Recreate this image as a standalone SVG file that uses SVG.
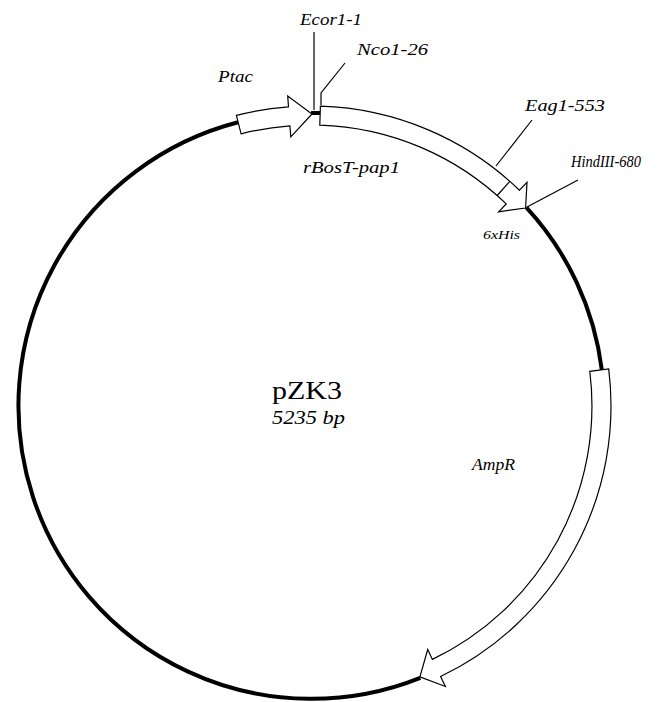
<svg xmlns="http://www.w3.org/2000/svg" width="669" height="702" viewBox="0 0 669 702">
<style>
.bb{fill:none;stroke:#000;stroke-width:4}
.ft{fill:#fff;stroke:#000;stroke-width:1.2;stroke-linejoin:miter}
.ld{fill:none;stroke:#000;stroke-width:1.2}
.lb{font-family:"Liberation Serif","Times New Roman",serif;font-style:italic;font-size:17px;fill:#000}
.sm{font-size:13px}
.ti{font-family:"Liberation Serif","Times New Roman",serif;font-size:26px;fill:#000}
.sb{font-family:"Liberation Serif","Times New Roman",serif;font-style:italic;font-size:19px;fill:#000}
</style>
<rect width="669" height="702" fill="#fff"/>
<g id="backbone">
<path class="bb" d="M311 113 A293 293 0 0 1 320.2 113.1"/>
<path class="bb" d="M526.3 207.3 A293 293 0 0 1 601.8 369.8"/>
<path class="bb" d="M420.3 677.9 A293 293 0 1 1 238.1 122.2"/>
</g>
<g id="Ptac">
<path class="ft" d="M236.4 115.4 A300 300 0 0 1 288.5 106.8 L287.7 95.9 L312 114 L290.8 136.8 L289.9 125.8 A281 281 0 0 0 241.1 133.8 Z"/>
<text class="lb" x="218" y="82" textLength="35" lengthAdjust="spacingAndGlyphs">Ptac</text>
</g>
<g id="rBosT-pap1">
<path class="ft" d="M320.4 106.2 A300 300 0 0 1 519.4 190.2 L527 182.3 L525.6 208 L498.6 211.8 L506.2 203.9 A281 281 0 0 0 319.8 125.1 Z"/>
<text class="lb" x="303" y="173" textLength="97" lengthAdjust="spacingAndGlyphs">rBosT-pap1</text>
</g>
<g id="6xHis">
<line class="ld" x1="509.8" y1="181.3" x2="497.2" y2="195.5"/>
<text class="lb sm" x="483" y="239" textLength="37" lengthAdjust="spacingAndGlyphs">6xHis</text>
</g>
<g id="AmpR">
<path class="ft" d="M608.7 368.9 A300 300 0 0 1 440.6 676.5 L445.4 686.5 L419.9 676.9 L427.7 649.5 L432.4 659.4 A281 281 0 0 0 589.8 371.3 Z"/>
<text class="lb" x="472" y="470" textLength="43" lengthAdjust="spacingAndGlyphs">AmpR</text>
</g>
<g id="center">
<text class="ti" x="272" y="399" textLength="70" lengthAdjust="spacingAndGlyphs">pZK3</text>
<text class="sb" x="272" y="424" textLength="73" lengthAdjust="spacingAndGlyphs">5235 bp</text>
</g>
<g id="sites">
<g id="EcoR1">
<line class="ld" x1="314" y1="32" x2="314" y2="110"/>
<text class="lb" x="300" y="25" textLength="62" lengthAdjust="spacingAndGlyphs">Ecor1-1</text>
</g>
<g id="Nco1">
<polyline class="ld" points="321,105 321,93 345,63"/>
<text class="lb" x="357" y="55" textLength="71" lengthAdjust="spacingAndGlyphs">Nco1-26</text>
</g>
<g id="Eag1">
<line class="ld" x1="496" y1="166" x2="532" y2="120"/>
<text class="lb" x="525" y="111" textLength="80" lengthAdjust="spacingAndGlyphs">Eag1-553</text>
</g>
<g id="HindIII">
<line class="ld" x1="527" y1="207" x2="578" y2="180"/>
<text class="lb" x="571" y="167" textLength="70" lengthAdjust="spacingAndGlyphs">HindIII-680</text>
</g>
</g>
</svg>
